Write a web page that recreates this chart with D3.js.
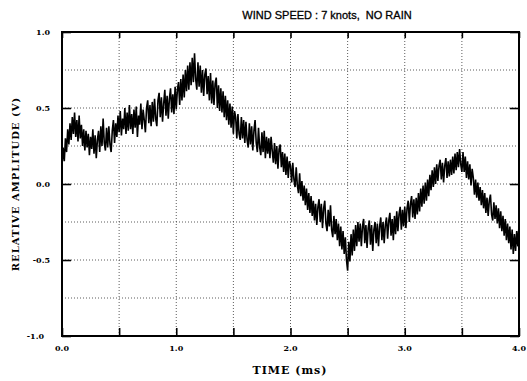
<!DOCTYPE html>
<html lang="en">
<head>
    <meta charset="UTF-8"/>
    <title>Relative amplitude vs time</title>
    <script src="https://d3js.org/d3.v7.min.js"></script>
    <style>
        body { margin: 0; background: white; }
        .grid line { stroke: #333; stroke-width: 0.8; stroke-dasharray: 1,2; }
        .lbl { font-family: "DejaVu Serif", serif; font-weight: bold; fill: #000; }
    </style>
</head>
<body>
    <script>
        var w = 527;
        var h = 381;
        var margin = {top: 32, right: 8, bottom: 45, left: 62};

        var titleText = "WIND SPEED : 7 knots,  NO RAIN";
        var xTicks = [0, 1, 2, 3, 4];
        var xTickLabels = ["0.0", "1.0", "2.0", "3.0", "4.0"];
        var yTicks = [1, 0.5, 0, -0.5, -1];
        var yTickLabels = ["1.0", "0.5", "0.0", "-0.5", "-1.0"];
        var xGrid = [0.5, 1, 1.5, 2, 2.5, 3, 3.5];
        var yGrid = [0.75, 0.5, 0.25, 0, -0.25, -0.5, -0.75];

        // sample spacing in ms
        var sampleStep = 0.01;

        // amplitude samples (V)
        var amplitude = [
            0.12, 0.24, 0.15, 0.30, 0.21, 0.36, 0.26, 0.40, 0.29, 0.44, 0.33, 0.47, 0.31, 0.42, 0.28, 0.45, 0.30, 0.39, 0.25, 0.36,
            0.22, 0.35, 0.24, 0.33, 0.19, 0.31, 0.23, 0.36, 0.20, 0.32, 0.17, 0.29, 0.35, 0.21, 0.38, 0.25, 0.43, 0.27, 0.22, 0.37,
            0.24, 0.38, 0.26, 0.21, 0.35, 0.42, 0.27, 0.40, 0.31, 0.45, 0.34, 0.48, 0.32, 0.43, 0.36, 0.50, 0.33, 0.47, 0.35, 0.52,
            0.36, 0.46, 0.33, 0.49, 0.37, 0.51, 0.31, 0.45, 0.39, 0.53, 0.36, 0.49, 0.42, 0.34, 0.50, 0.55, 0.40, 0.52, 0.38, 0.54,
            0.41, 0.56, 0.43, 0.38, 0.55, 0.60, 0.44, 0.57, 0.41, 0.53, 0.62, 0.45, 0.58, 0.43, 0.56, 0.63, 0.47, 0.59, 0.46, 0.64,
            0.49, 0.62, 0.67, 0.52, 0.69, 0.55, 0.72, 0.57, 0.75, 0.61, 0.78, 0.62, 0.80, 0.65, 0.83, 0.67, 0.86, 0.69, 0.62, 0.80,
            0.64, 0.78, 0.60, 0.75, 0.58, 0.72, 0.76, 0.59, 0.71, 0.55, 0.73, 0.53, 0.68, 0.52, 0.66, 0.70, 0.50, 0.65, 0.48, 0.63,
            0.47, 0.61, 0.44, 0.58, 0.42, 0.55, 0.39, 0.53, 0.37, 0.51, 0.33, 0.48, 0.44, 0.30, 0.46, 0.33, 0.29, 0.44, 0.30, 0.42,
            0.27, 0.41, 0.29, 0.24, 0.40, 0.26, 0.38, 0.22, 0.35, 0.42, 0.27, 0.21, 0.37, 0.24, 0.19, 0.34, 0.21, 0.35, 0.17, 0.31,
            0.20, 0.30, 0.17, 0.31, 0.22, 0.14, 0.27, 0.13, 0.25, 0.10, 0.23, 0.26, 0.11, 0.21, 0.08, 0.20, 0.06, 0.18, 0.04, 0.15,
            0.12, 0.01, 0.14, 0.03, -0.02, 0.11, -0.01, -0.06, 0.07, -0.08, 0.02, -0.11, -0.01, -0.14, -0.03, -0.17, -0.06, -0.19, -0.08, -0.21,
            -0.11, -0.24, -0.13, -0.27, -0.15, -0.10, -0.25, -0.13, -0.29, -0.16, -0.11, -0.26, -0.31, -0.17, -0.28, -0.14, -0.30, -0.35, -0.21, -0.33,
            -0.23, -0.37, -0.26, -0.41, -0.28, -0.43, -0.31, -0.46, -0.35, -0.50, -0.57, -0.38, -0.51, -0.33, -0.47, -0.30, -0.44, -0.27, -0.41, -0.25,
            -0.38, -0.26, -0.41, -0.28, -0.23, -0.39, -0.27, -0.42, -0.29, -0.24, -0.40, -0.27, -0.44, -0.30, -0.25, -0.39, -0.26, -0.41, -0.28, -0.22,
            -0.37, -0.25, -0.39, -0.27, -0.22, -0.36, -0.24, -0.19, -0.34, -0.23, -0.37, -0.21, -0.33, -0.18, -0.31, -0.20, -0.15, -0.30, -0.17, -0.28,
            -0.15, -0.29, -0.16, -0.11, -0.25, -0.13, -0.08, -0.22, -0.10, -0.23, -0.09, -0.20, -0.06, -0.18, -0.03, -0.15, -0.01, -0.13, 0.01, -0.11,
            0.03, -0.08, 0.06, -0.04, 0.09, -0.02, 0.11, 0.00, 0.13, 0.02, 0.12, 0.16, 0.03, 0.14, 0.01, 0.12, 0.17, 0.04, 0.15, 0.05,
            0.16, 0.06, 0.18, 0.07, 0.20, 0.09, 0.21, 0.11, 0.23, 0.13, 0.08, 0.21, 0.08, 0.18, 0.04, 0.15, 0.03, 0.13, -0.01, 0.10,
            0.04, -0.07, 0.03, -0.09, 0.01, -0.11, -0.02, -0.14, -0.04, -0.16, -0.06, -0.19, -0.09, -0.21, -0.11, -0.07, -0.20, -0.24, -0.12, -0.23,
            -0.14, -0.26, -0.16, -0.29, -0.18, -0.31, -0.21, -0.34, -0.23, -0.37, -0.26, -0.39, -0.28, -0.43, -0.30, -0.46, -0.33, -0.44, -0.31, -0.41,
            -0.27
        ];

        var xScale = d3.scaleLinear()
            .domain([0, 4])
            .range([margin.left, w - margin.right]);

        var yScale = d3.scaleLinear()
            .domain([-1, 1])
            .range([h - margin.bottom, margin.top]);

        var svg = d3.select("body")
            .append("svg")
            .attr("width", w)
            .attr("height", h);

        // dotted grid
        var grid = svg.append("g").attr("class", "grid");
        grid.selectAll(".vx")
            .data(xGrid)
            .enter()
            .append("line")
            .attr("x1", function(d) { return xScale(d); })
            .attr("x2", function(d) { return xScale(d); })
            .attr("y1", yScale(1))
            .attr("y2", yScale(-1));
        grid.selectAll(".hy")
            .data(yGrid)
            .enter()
            .append("line")
            .attr("x1", xScale(0))
            .attr("x2", xScale(4))
            .attr("y1", function(d) { return yScale(d); })
            .attr("y2", function(d) { return yScale(d); });

        // trace
        var line = d3.line()
            .x(function(d, i) { return xScale(i * sampleStep); })
            .y(function(d) { return yScale(d); });

        svg.append("path")
            .datum(amplitude)
            .attr("d", line)
            .attr("fill", "none")
            .attr("stroke", "#000")
            .attr("stroke-width", 1.6)
            .attr("stroke-linejoin", "miter");

        // axes with inward ticks, no labels (labels drawn separately)
        var tickVals = d3.range(0, 4.01, 0.5);
        var yTickVals = d3.range(-1, 1.01, 0.5);

        svg.append("g")
            .attr("transform", "translate(0," + yScale(-1) + ")")
            .call(d3.axisTop(xScale).tickValues(tickVals).tickSize(8).tickFormat(""));
        svg.append("g")
            .attr("transform", "translate(0," + yScale(1) + ")")
            .call(d3.axisBottom(xScale).tickValues(tickVals).tickSize(6).tickFormat(""));
        svg.append("g")
            .attr("transform", "translate(" + xScale(0) + ",0)")
            .call(d3.axisRight(yScale).tickValues(yTickVals).tickSize(9).tickFormat(""));
        svg.append("g")
            .attr("transform", "translate(" + xScale(4) + ",0)")
            .call(d3.axisLeft(yScale).tickValues(yTickVals).tickSize(9).tickFormat(""));

        svg.selectAll(".domain").remove();
        svg.selectAll(".tick line").attr("stroke", "#000").attr("stroke-width", 1.6);

        // frame
        svg.append("rect")
            .attr("x", xScale(0))
            .attr("y", yScale(1))
            .attr("width", xScale(4) - xScale(0))
            .attr("height", yScale(-1) - yScale(1))
            .attr("fill", "none")
            .attr("stroke", "#000")
            .attr("stroke-width", 2);

        // tick labels
        svg.selectAll(".xl")
            .data(xTicks)
            .enter()
            .append("text")
            .attr("class", "lbl")
            .attr("x", function(d) { return xScale(d); })
            .attr("y", yScale(-1) + 15)
            .attr("text-anchor", "middle")
            .attr("font-size", "8px")
            .text(function(d, i) { return xTickLabels[i]; });

        svg.selectAll(".yl")
            .data(yTicks)
            .enter()
            .append("text")
            .attr("class", "lbl")
            .attr("x", function(d) { return d === -1 ? 44 : 50; })
            .attr("y", function(d) { return yScale(d) + 3; })
            .attr("text-anchor", "end")
            .attr("font-size", "8px")
            .text(function(d, i) { return yTickLabels[i]; });

        // title
        svg.append("text")
            .attr("x", 327)
            .attr("y", 19)
            .attr("text-anchor", "middle")
            .attr("font-family", "Liberation Sans, Arial, sans-serif")
            .attr("font-size", "11px")
            .attr("fill", "#000")
            .attr("stroke", "#000")
            .attr("stroke-width", 0.3)
            .style("white-space", "pre")
            .text(titleText);

        // axis titles
        svg.append("text")
            .attr("class", "lbl")
            .attr("text-anchor", "middle")
            .attr("font-size", "10px")
            .attr("letter-spacing", "1px")
            .attr("transform", "translate(19," + yScale(0) + ") rotate(-90)")
            .text("RELATIVE AMPLITUDE (V)");

        svg.append("text")
            .attr("class", "lbl")
            .attr("text-anchor", "middle")
            .attr("font-size", "11px")
            .attr("letter-spacing", "1px")
            .attr("x", 290)
            .attr("y", 374)
            .text("TIME (ms)");
    </script>
</body>
</html>
